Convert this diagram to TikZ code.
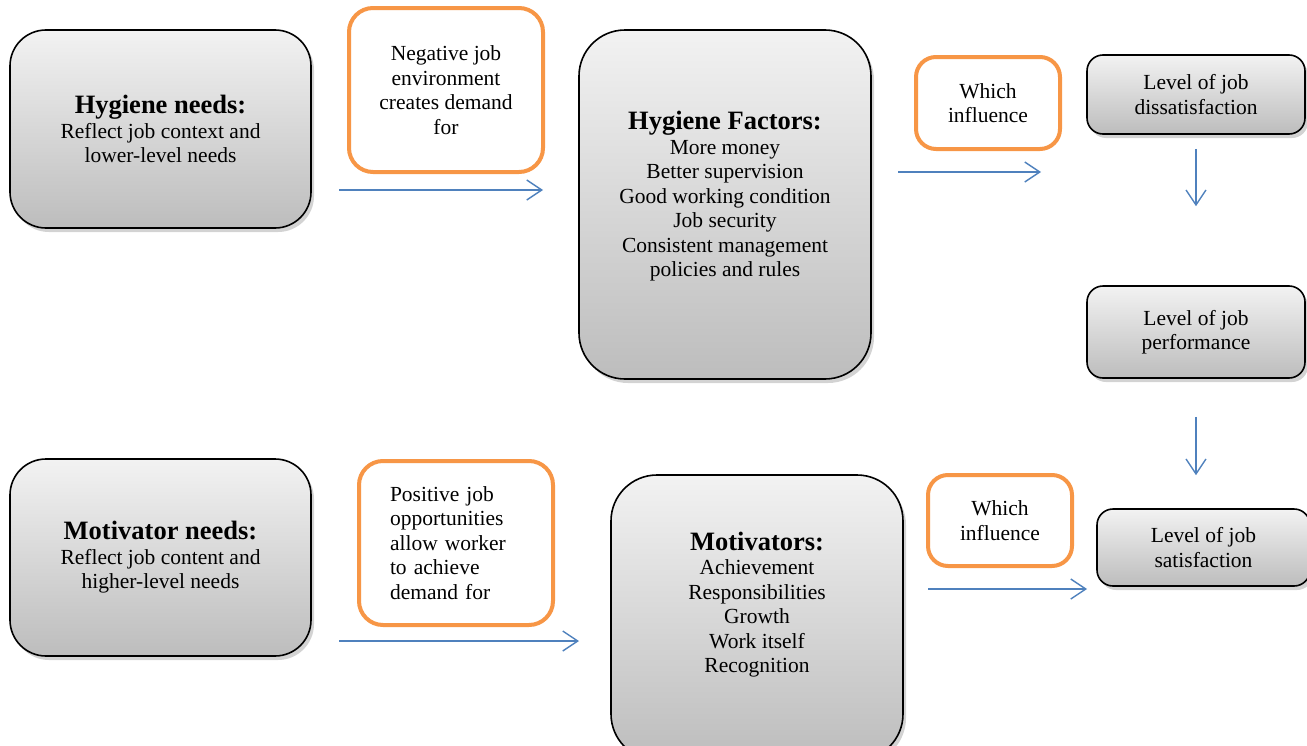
\documentclass[tikz,border=0pt]{standalone}
\usepackage{fontspec}
\setmainfont{Liberation Serif}
\usetikzlibrary{arrows.meta,shadows}

\definecolor{boxorange}{RGB}{247,150,70}
\definecolor{flowblue}{RGB}{79,129,189}

\tikzset{
  graybox/.style={draw,line width=1.6bp,top color=gray!10,bottom color=gray!52,
    drop shadow={shadow xshift=3bp,shadow yshift=-4bp,opacity=0.35},
    align=center,inner sep=0pt,font=\fontsize{21.5bp}{24.5bp}\selectfont},
  orangebox/.style={draw=boxorange,line width=4bp,fill=white,rounded corners=24bp,
    align=center,inner sep=0pt,font=\fontsize{21.5bp}{24.5bp}\selectfont},
  flow/.style={draw=flowblue,line width=1.4bp,-{Straight Barb[length=15bp,width=20bp,line width=1.4bp]}}
}
\newcommand{\boxhead}[1]{{\fontsize{26.5bp}{28bp}\selectfont\bfseries #1}}

\begin{document}
\begin{tikzpicture}

\useasboundingbox (0bp,0bp) rectangle (1307bp,-746bp);

% left column
\node (HN) at (160.5bp,-129bp)[graybox,rounded corners=36bp,minimum width=301bp,minimum height=198bp]
  {\boxhead{Hygiene needs:}\\Reflect job context and\\lower-level needs};
\node (MN) at (160.5bp,-557.5bp)[graybox,rounded corners=36bp,minimum width=301bp,minimum height=197bp]
  {\boxhead{Motivator needs:}\\Reflect job content and\\higher-level needs};

% orange labels
\node (NJ) at (446bp,-90bp)[orangebox,minimum width=194bp,minimum height=164bp]
  {Negative job\\environment\\creates demand\\for};
\node (PJ) at (456bp,-543bp)[orangebox,minimum width=194bp,minimum height=164bp,text width=132bp,align=left]
  {Positive job\\opportunities\\allow worker\\to achieve\\demand for};
\node (WI1) at (988bp,-103bp)[orangebox,rounded corners=20bp,minimum width=144bp,minimum height=92bp]
  {Which\\influence};
\node (WI2) at (1000bp,-520.5bp)[orangebox,rounded corners=20bp,minimum width=144bp,minimum height=91bp]
  {Which\\influence};

% factor boxes
\node (HF) at (725bp,-204.5bp)[graybox,rounded corners=46bp,minimum width=292bp,minimum height=349bp]
  {\boxhead{Hygiene Factors:}\\More money\\Better supervision\\Good working condition\\Job security\\Consistent management\\policies and rules\\[-4bp]\mbox{}};
\node (MO) at (757bp,-617.5bp)[graybox,rounded corners=46bp,minimum width=292bp,minimum height=285bp]
  {\boxhead{Motivators:}\\Achievement\\Responsibilities\\Growth\\Work itself\\Recognition\\[6bp]\mbox{}};

% levels
\node (LD) at (1196bp,-94.5bp)[graybox,rounded corners=16bp,minimum width=218bp,minimum height=79bp]
  {Level of job\\dissatisfaction};
\node (LP) at (1196bp,-332bp)[graybox,rounded corners=16bp,minimum width=218bp,minimum height=92bp]
  {Level of job\\performance};
\node (LS) at (1203.5bp,-547.5bp)[graybox,rounded corners=16bp,minimum width=213bp,minimum height=77bp]
  {Level of job\\satisfaction};

% arrows
\coordinate (A1s) at (339bp,-190bp);
\coordinate (A1e) at (543bp,-190bp);
\coordinate (A2s) at (339bp,-641bp);
\coordinate (A2e) at (579bp,-641bp);
\coordinate (A3s) at (898bp,-172bp);
\coordinate (A3e) at (1041bp,-172bp);
\coordinate (A4s) at (928bp,-589bp);
\coordinate (A4e) at (1087bp,-589bp);
\draw [flow] (A1s) -- (A1e);
\draw [flow] (A2s) -- (A2e);
\draw [flow] (A3s) -- (A3e);
\draw [flow] (A4s) -- (A4e);
\draw [flow,shorten <=14bp,shorten >=79bp] (LD) -- (LP);
\draw [flow,shorten <=38bp,shorten >=33bp] (LP) -- (LP.south |- LS.north);
\end{tikzpicture}
\end{document}
